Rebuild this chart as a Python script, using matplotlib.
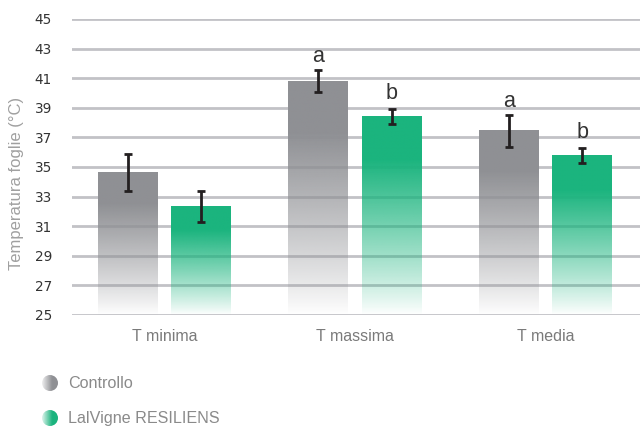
import numpy as np
import matplotlib
matplotlib.use("Agg")
import matplotlib.pyplot as plt
from matplotlib.colors import to_rgb
from matplotlib.patches import Circle

plt.rcParams['font.family'] = ['Liberation Sans', 'DejaVu Sans']

categories = ["T minima", "T massima", "T media"]
series_names = ["Controllo", "LalVigne RESILIENS"]
controllo = [34.6, 40.8, 37.45]
controllo_err = [1.25, 0.75, 1.07]
resiliens = [32.35, 38.4, 35.8]
resiliens_err = [1.05, 0.52, 0.5]
letters_controllo = ["", "a", "a"]
letters_resiliens = ["", "b", "b"]
yticks = [25, 27, 29, 31, 33, 35, 37, 39, 41, 43, 45]

gray = "#8f9094"
green = "#1bb47e"
grid_c = "#c2c2c6"

fig = plt.figure(figsize=(6.4, 4.26), dpi=100)
ax = fig.add_axes([0.1125, 0.2606, 0.8875, 0.6948])

x = np.arange(len(categories))
w = 0.315
off = 0.192
ybase = 25

def grad_bars(xpos, vals, color, zo):
    bars = ax.bar(xpos, np.array(vals) - ybase, w, bottom=ybase, color='none',
                  edgecolor='none', zorder=zo)
    rgb = np.array(to_rgb(color))
    for b in bars:
        x0, y0 = b.get_x(), b.get_y()
        bw, bh = b.get_width(), b.get_height()
        n = 256
        t = np.linspace(0, 1, n)  # 0 bottom -> 1 top
        a = np.clip(t / 0.78, 0, 1) ** 0.9
        img = np.zeros((n, 2, 4))
        img[..., :3] = rgb
        img[..., 3] = a[:, None]
        ax.imshow(img, extent=(x0, x0 + bw, y0, y0 + bh), origin='lower',
                  aspect='auto', zorder=zo, interpolation='bilinear')
    return bars

grad_bars(x - off, controllo, gray, 3)
grad_bars(x + off, resiliens, green, 3)

ek = dict(fmt='none', ecolor='#231f20', elinewidth=2.0, capsize=2.9, capthick=2.0, zorder=5)
ax.errorbar(x - off, controllo, yerr=controllo_err, **ek)
ax.errorbar(x + off, resiliens, yerr=resiliens_err, **ek)

for xi, v, e, l in zip(x - off, controllo, controllo_err, letters_controllo):
    if l:
        ax.annotate(l, (xi, v + e), xytext=(0, 5.5), textcoords='offset points',
                    ha='center', va='baseline', fontsize=15.5, color='#333333', zorder=6)
for xi, v, e, l in zip(x + off, resiliens, resiliens_err, letters_resiliens):
    if l:
        ax.annotate(l, (xi, v + e), xytext=(0, 7), textcoords='offset points',
                    ha='center', va='baseline', fontsize=15.5, color='#333333', zorder=6)

ax.set_xlim(-0.486, 2.496)
ax.set_ylim(25, 45)
ax.set_yticks(yticks)
ax.set_xticks(x)
ax.set_xticklabels(categories, fontsize=11.5, color='#7a7a7a')
ax.tick_params(axis='y', length=0, pad=14.4)
for lbl in ax.get_yticklabels():
    lbl.set_fontfamily('DejaVu Sans')
    lbl.set_fontsize(9.8)
    lbl.set_color('#333333')
ax.tick_params(axis='x', length=0, pad=10)
ax.grid(axis='y', color=grid_c, linewidth=2.0, zorder=1)
ax.set_axisbelow(True)
for s in ax.spines.values():
    s.set_visible(False)
ax.set_ylabel("Temperatura foglie (°C)", fontsize=12, color='#a0a0a0')
ax.yaxis.set_label_coords(-0.0845, 0.446)

# legend
leg_items = [(series_names[0], gray, 383), (series_names[1], green, 418)]
for name, col, ypix in leg_items:
    cx, cy, r = 50, ypix, 8
    lax = fig.add_axes([(cx - r) / 640, (426 - cy - r) / 426, 2 * r / 640, 2 * r / 426])
    lax.set_axis_off()
    rgb = np.array(to_rgb(col))
    n = 64
    tt = np.linspace(0, 1, n)
    al = 0.15 + 0.85 * np.clip(tt / 0.6, 0, 1)
    im = np.zeros((2, n, 4))
    im[..., :3] = rgb
    im[..., 3] = al[None, :]
    img = lax.imshow(im, extent=(0, 1, 0, 1), aspect='auto', interpolation='bilinear')
    circ = Circle((0.5, 0.5), 0.5, transform=lax.transData)
    img.set_clip_path(circ)
    lax.set_xlim(0, 1)
    lax.set_ylim(0, 1)
    fig.text(68 / 640, 1 - ypix / 426, name, fontsize=11.6, color='#8a8a8a',
             ha='left', va='center')

fig.savefig("out.png", dpi=100)
